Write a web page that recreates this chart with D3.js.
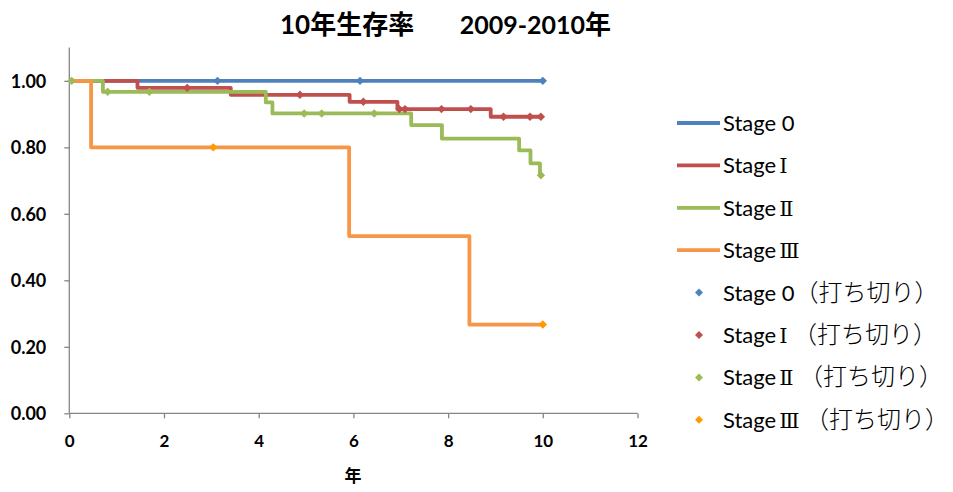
<!DOCTYPE html>
<html><head><meta charset="utf-8">
<script src="https://cdn.jsdelivr.net/npm/d3@7"></script>
<style>body{margin:0;background:#fff}svg{display:block}</style>
</head><body><svg id="c" width="953" height="492"></svg>
<script>
// ---- data ----
const seriesNames = ["Stage 0", "StageⅠ", "StageⅡ", "StageⅢ"];
const censorNames = ["Stage 0（打ち切り）", "StageⅠ （打ち切り）", "StageⅡ （打ち切り）", "StageⅢ （打ち切り）"];
const lineColors = ["#4F81BD", "#C0504D", "#9BBB59", "#F79646"];
const markerColors = ["#4F81BD", "#C0504D", "#9BBB59", "#FF9900"];
const endTime = 10;

const stage0EventTimes = [];
const stage0Surv = [];
const stageIEventTimes = [1.44, 3.41, 5.92, 6.93, 8.90];
const stageISurv = [0.979, 0.958, 0.937, 0.915, 0.892];
const stageIIEventTimes = [0.71, 4.15, 4.29, 7.22, 7.87, 9.50, 9.74, 9.94];
const stageIISurv = [0.967, 0.935, 0.902, 0.867, 0.826, 0.791, 0.752, 0.716];
const stageIIIEventTimes = [0.46, 5.91, 8.45];
const stageIIISurv = [0.800, 0.533, 0.267];

const stage0Censor = [3.13, 6.14, 10];
const stageICensor = [2.49, 4.87, 6.21, 6.97, 7.09, 7.86, 8.48, 9.17, 9.73, 9.96];
const stageIICensor = [0.05, 0.81, 1.69, 4.96, 5.33, 6.44, 9.96];
const stageIIICensor = [3.04, 10];

const xTicks = [0, 2, 4, 6, 8, 10, 12];
const yTicks = [0, 0.2, 0.4, 0.6, 0.8, 1.0];
const titleParts = ["10年生存率", "2009-2010年"];
const xTitle = "年";

// ---- build ----
const events = [
  [stage0EventTimes, stage0Surv],
  [stageIEventTimes, stageISurv],
  [stageIIEventTimes, stageIISurv],
  [stageIIIEventTimes, stageIIISurv]
];
const censors = [stage0Censor, stageICensor, stageIICensor, stageIIICensor];

function curvePoints(times, surv) {
  const pts = [[0, 1]];
  times.forEach((t, i) => pts.push([t, surv[i]]));
  pts.push([endTime, surv.length ? surv[surv.length - 1] : 1]);
  return pts;
}
function survAt(times, surv, t) {
  let s = 1;
  times.forEach((tt, i) => { if (tt <= t) s = surv[i]; });
  return s;
}

const svg = d3.select("#c");
const LAT = "Lato, 'Noto Sans CJK JP', sans-serif";
const CJK = "'Noto Sans CJK JP', sans-serif";
const ROM = "'DejaVu Serif', 'DejaVu Sans', serif";
const kindOf = ch => /[\u2160-\u217F]/.test(ch) ? "rom"
  : /[\u3000-\u30FF\u4E00-\u9FFF\uFF00-\uFFEF]/.test(ch) ? "cjk" : "lat";

// append text split into Latin/Roman-numeral/CJK runs
function richText(sel, str, sizes, weight, cjkWeight) {
  const runs = [];
  for (const ch of str) {
    const k = kindOf(ch);
    if (runs.length && runs[runs.length - 1].k === k) runs[runs.length - 1].s += ch;
    else runs.push({ k, s: ch });
  }
  const fam = { lat: LAT, cjk: CJK, rom: ROM };
  runs.forEach(r => {
    const t = sel.append("tspan").attr("font-family", fam[r.k])
      .attr("font-size", sizes[r.k])
      .attr("font-weight", r.k === "cjk" ? cjkWeight : weight).text(r.s);
    if (r.k === "rom") t.attr("dx", 3);
  });
  return sel;
}

const x = d3.scaleLinear().domain([0, 12]).range([69.3, 637.5]);
const y = d3.scaleLinear().domain([0, 1.1]).range([413.3, 47.6]);

// title
richText(svg.append("text").attr("x", 280).attr("y", 34).attr("fill", "#000"), titleParts[0], {lat: 26, cjk: 26, rom: 26}, "bold", "bold");
richText(svg.append("text").attr("x", 611).attr("y", 34).attr("text-anchor", "end").attr("fill", "#000"), titleParts[1], {lat: 25, cjk: 26, rom: 26}, "bold", "bold");

const axisColor = "#868686";
const gx = svg.append("g").attr("transform", `translate(0,${y(0)})`)
  .call(d3.axisBottom(x).tickValues(xTicks).tickSize(5).tickPadding(17).tickFormat(d3.format("d")));
const gy = svg.append("g").attr("transform", `translate(${x(0)},0)`)
  .call(d3.axisLeft(y).tickValues(yTicks).tickSize(5).tickPadding(18).tickFormat(d3.format(".2f")));
[gx, gy].forEach(g => {
  g.select(".domain").attr("stroke", axisColor).attr("stroke-width", 1.3);
  g.selectAll(".tick line").attr("stroke", axisColor).attr("stroke-width", 1.3);
  g.selectAll(".tick text").attr("font-family", LAT).attr("font-weight", "bold").attr("fill", "#000");
});
gx.selectAll(".tick text").attr("font-size", 17);
gy.selectAll(".tick text").attr("font-size", 18).attr("dy", "0.36em");
gy.select(".domain").attr("d", `M0,${y(1.1)}V${y(0)}`);
gx.select(".domain").attr("d", `M${x(0)},0H${x(12)}`);

svg.append("text").attr("x", 353).attr("y", 482).attr("text-anchor", "middle")
  .attr("font-family", CJK).attr("font-weight", "bold").attr("font-size", 17)
  .attr("fill", "#000").text(xTitle);

const line = d3.line().x(d => x(d[0])).y(d => y(d[1])).curve(d3.curveStepAfter);
events.forEach((ev, i) => {
  svg.append("path").datum(curvePoints(ev[0], ev[1]))
    .attr("d", line).attr("fill", "none").attr("stroke", lineColors[i])
    .attr("stroke-width", 3.8).attr("stroke-linejoin", "round");
});
const diamond = (cx, cy, r) => `M${cx},${cy - r}L${cx + r},${cy}L${cx},${cy + r}L${cx - r},${cy}Z`;
censors.forEach((cs, i) => {
  svg.append("g").selectAll("path").data(cs).join("path")
    .attr("d", t => diamond(x(t), y(survAt(events[i][0], events[i][1], t)), 4.2))
    .attr("fill", markerColors[i]);
});

// legend
const legX = 677, legY0 = 123, legStep = 42.4;
const legSizes = { lat: 22, cjk: 24, rom: 21 };
seriesNames.forEach((n, i) => {
  const yy = legY0 + i * legStep;
  svg.append("line").attr("x1", legX).attr("x2", legX + 43).attr("y1", yy).attr("y2", yy)
    .attr("stroke", lineColors[i]).attr("stroke-width", 3.8);
  richText(svg.append("text").attr("x", 723).attr("y", yy + 8).attr("fill", "#000"), n, legSizes, "normal", 300);
});
censorNames.forEach((n, i) => {
  const yy = legY0 + (i + 4) * legStep;
  svg.append("path").attr("d", diamond(699, yy, 4)).attr("fill", markerColors[i]);
  richText(svg.append("text").attr("x", 723).attr("y", yy + 8).attr("fill", "#000"), n, legSizes, "normal", 300);
});
</script></body></html>
